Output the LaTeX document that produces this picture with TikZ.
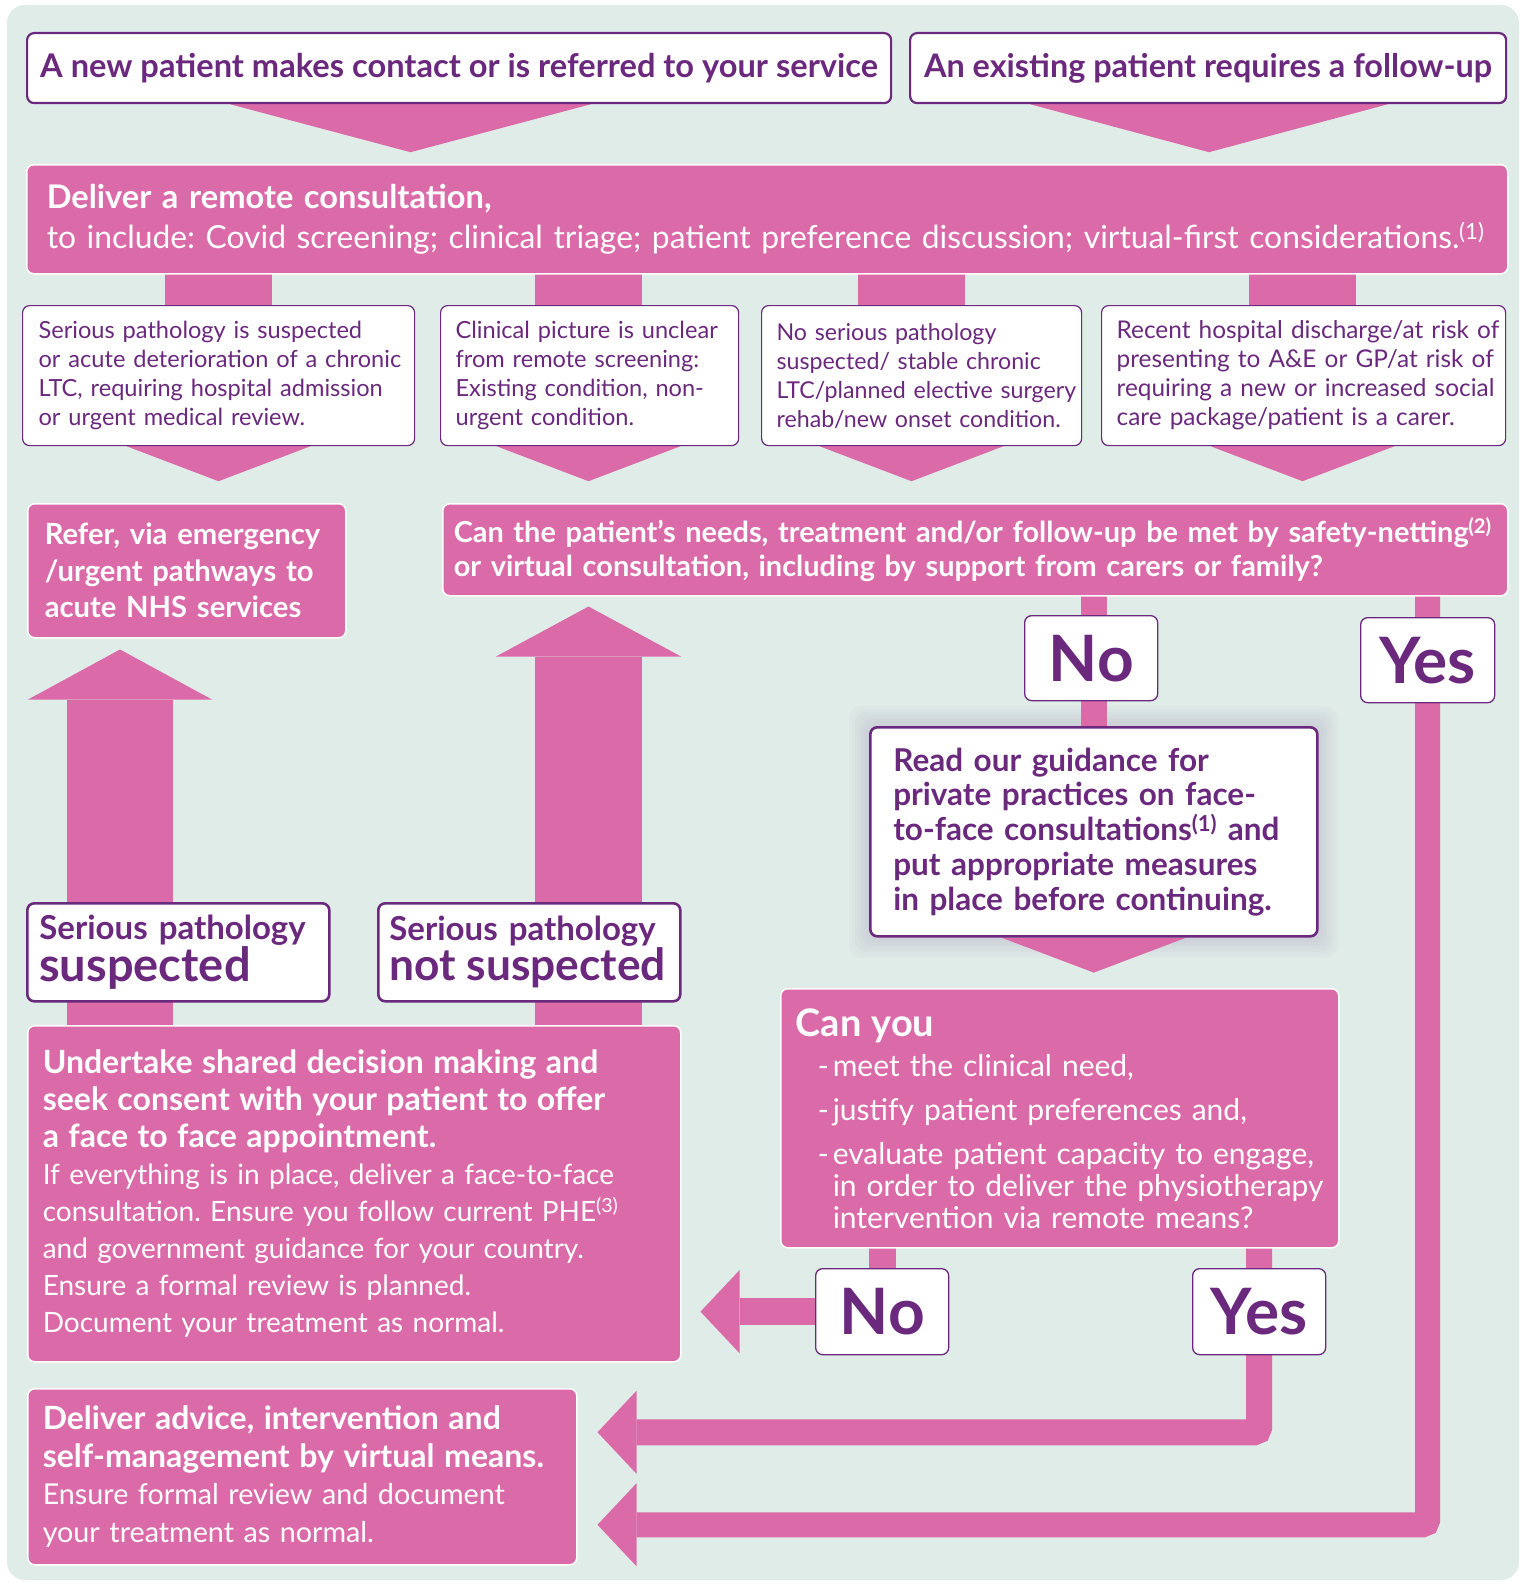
\documentclass[tikz,border=0pt]{standalone}
\usepackage{fontspec}
\setmainfont{Lato}
\frenchspacing
\usetikzlibrary{calc}
\definecolor{pinkc}{RGB}{219,106,168}
\definecolor{purp}{RGB}{107,41,126}
\definecolor{bgc}{RGB}{224,236,232}
\pgfdeclarelayer{back}
\pgfsetlayers{back,main}

\begin{document}
\begin{tikzpicture}[x=1pt, y=-1pt,
  whitebox/.style={draw=purp, line width=2.2, fill=white, rounded corners=7, anchor=north west, text=purp, inner sep=0},
  pinkbox/.style={draw=white, line width=1.5, fill=pinkc, rounded corners=7, anchor=north west, text=white, inner sep=0},
  smallbox/.style={whitebox, line width=1.2, minimum height=140, align=left, font=\frenchspacing\fontsize{23.6}{29}\selectfont},
  answer/.style={whitebox, line width=1.3, font=\bfseries\fontsize{64}{66}\selectfont},
  link/.style={draw=pinkc, line width=#1},
  head/.style={fill=pinkc}]

	\useasboundingbox (0,0) rectangle (1523,1584);
	\begin{pgfonlayer}{back}
		\fill[bgc, rounded corners=18] (7,5) rectangle (1519,1580);
	\end{pgfonlayer}

	% entry points
	\node[whitebox, minimum width=864, minimum height=70, font=\bfseries\fontsize{32.6}{36}\selectfont] (newpat) at (26,32) {A new patient makes contact or is referred to your service};
	\node[whitebox, minimum width=596, minimum height=70, font=\bfseries\fontsize{32.4}{36}\selectfont] (oldpat) at (909,32) {An existing patient requires a follow-up};

	\node[pinkbox, minimum width=1481, minimum height=109, inner xsep=20, text width=1441, align=left, font=\frenchspacing\fontsize{31.8}{40}\selectfont] (remote) at (26,164)
		{{\bfseries\fontsize{32.6}{40}\selectfont Deliver a remote consultation,}\\
		\mbox{to include: Covid screening; clinical triage; patient preference discussion; virtual-first considerations.\textsuperscript{(1)}}};

	% the four situations
	\node[smallbox, minimum width=392, inner xsep=16, text width=360] (serious) at (22,305)
		{\mbox{Serious pathology is suspected}\\ \mbox{or acute deterioration of a chronic}\\ \mbox{LTC, requiring hospital admission}\\ \mbox{or urgent medical review.}};
	\node[smallbox, minimum width=298, inner xsep=15, text width=268] (unclear) at (440,305)
		{\mbox{Clinical picture is unclear}\\ \mbox{from remote screening:}\\ \mbox{Existing condition, non-}\\ \mbox{urgent condition.}};
	\node[smallbox, minimum width=320, inner xsep=15, text width=290, font=\fontsize{23.2}{29}\selectfont] (stable) at (761,305)
		{\mbox{No serious pathology}\\ \mbox{suspected/ stable chronic}\\ \mbox{LTC/planned elective surgery}\\ \mbox{rehab/new onset condition.}};
	\node[smallbox, minimum width=404, inner xsep=15, text width=374, font=\fontsize{24.4}{29}\selectfont] (discharge) at (1101,305)
		{\mbox{Recent hospital discharge/at risk of}\\ \mbox{presenting to A\&E or GP/at risk of}\\ \mbox{requiring a new or increased social}\\ \mbox{care package/patient is a carer.}};

	\node[pinkbox, minimum width=318, minimum height=134, inner xsep=17, text width=284, align=left, font=\bfseries\fontsize{29.2}{36.5}\selectfont] (refer) at (27,503)
		{\mbox{Refer, via emergency}\\ \mbox{/urgent pathways to}\\ \mbox{acute NHS services}};
	\node[pinkbox, minimum width=1065, minimum height=92, inner xsep=11, text width=1043, align=left, font=\bfseries\fontsize{28.9}{34}\selectfont] (question) at (442,503)
		{\mbox{Can the patient’s needs, treatment and/or follow-up be met by safety-netting\textsuperscript{(2)}}\\
		\mbox{or virtual consultation, including by support from carers or family?}};

	\node[answer, minimum width=133, minimum height=85] (noA) at (1024,615) {No};
	\node[answer, minimum width=134, minimum height=85] (yesA) at (1360,617) {Yes};

	\node[whitebox, line width=2.6, minimum width=447, minimum height=209, inner xsep=23, text width=401, align=left, font=\bfseries\fontsize{31.5}{34.7}\selectfont] (read) at (869,726)
		{\mbox{Read our guidance for}\\ \mbox{private practices on face-}\\ \mbox{to-face consultations\textsuperscript{(1)} and}\\ \mbox{put appropriate measures}\\ \mbox{in place before continuing.}};

	\node[pinkbox, minimum width=558, minimum height=259, inner xsep=15, text width=528, align=left, font=\fontsize{30}{32}\selectfont] (canyou) at (780,988)
		{{\bfseries\fontsize{38}{40}\selectfont Can you}\\[8pt]
		\hspace*{22pt}\makebox[15pt][l]{-}\mbox{meet the clinical need,}\\[12pt]
		\hspace*{22pt}\makebox[15pt][l]{-}\mbox{justify patient preferences and,}\\[12pt]
		\hspace*{22pt}\makebox[15pt][l]{-}\mbox{evaluate patient capacity to engage,}\\
		\hspace*{37pt}\mbox{in order to deliver the physiotherapy}\\
		\hspace*{37pt}\mbox{intervention via remote means?}};

	\node[answer, minimum width=133, minimum height=86] (noB) at (815,1268) {No};
	\node[answer, minimum width=133, minimum height=86] (yesB) at (1192,1268) {Yes};

	\node[whitebox, line width=2.6, minimum width=302, minimum height=98, inner xsep=12, text width=278, align=left, font=\bfseries\fontsize{33}{40}\selectfont] (susp) at (26,902)
		{\mbox{Serious pathology}\\ {\fontsize{47}{40}\selectfont suspected}};
	\node[whitebox, line width=2.6, minimum width=302, minimum height=98, inner xsep=11, text width=280, align=left, font=\bfseries\fontsize{33}{40}\selectfont] (notsusp) at (377,902)
		{\mbox{Serious pathology}\\ {\fontsize{44.3}{40}\selectfont \mbox{not suspected}}};

	\node[pinkbox, minimum width=653, minimum height=336, inner xsep=15, text width=623, align=left, font=\fontsize{28}{37}\selectfont] (undertake) at (27,1025)
		{{\bfseries\fontsize{32}{37}\selectfont \mbox{Undertake shared decision making and}\\ \mbox{seek consent with your patient to offer}\\ \mbox{a face to face appointment.}}\\
		\mbox{If everything is in place, deliver a face-to-face}\\
		\mbox{consultation. Ensure you follow current PHE\textsuperscript{(3)}}\\
		\mbox{and government guidance for your country.}\\
		\mbox{Ensure a formal review is planned.}\\
		\mbox{Document your treatment as normal.}};

	\node[pinkbox, minimum width=549, minimum height=176, inner xsep=15, text width=519, align=left, font=\fontsize{28.7}{37.5}\selectfont] (deliver) at (27,1388)
		{{\bfseries\fontsize{32}{37.5}\selectfont \mbox{Deliver advice, intervention and}\\ \mbox{self-management by virtual means.}}\\
		\mbox{Ensure formal review and document}\\
		\mbox{your treatment as normal.}};

	\begin{pgfonlayer}{back}
		% glow round the guidance box
		\foreach \r in {20,17,...,2}
			\fill[purp, opacity=0.018, rounded corners=12] ($(read.north west)+(-\r,-\r)$) rectangle ($(read.south east)+(\r,\r)$);

		% from the entry points
		\fill[head] ($(newpat.south west)+(204,0)$) -- ++(361,0) -- ++(-180.5,48) -- cycle;
		\fill[head] ($(oldpat.south west)+(121,0)$) -- ++(358,0) -- ++(-179,48) -- cycle;

		% remote consultation to the four situations
		\foreach \nm/\dx in {serious/196.5, unclear/148.5, stable/150.5, discharge/201.5} {
			\coordinate (c) at ($(\nm.north west)+(\dx,0)$);
			\draw[link=107] (c |- remote.center) -- (c |- \nm.center);
			\fill[head] (c |- \nm.south) ++(-92,0) -- ++(184,0) -- ++(-92,35) -- cycle;
		}

		% serious pathology suspected
		\coordinate (u1) at ($(susp.north west)+(94,0)$);
		\path (u1 |- refer.south) ++(0,11) coordinate (u1tip);
		\draw[link=106.5] (u1 |- undertake.center) -- ($(u1tip)+(0,50)$);
		\fill[head] (u1tip) -- ++(-92,50) -- ++(184,0) -- cycle;

		% serious pathology not suspected
		\coordinate (u2) at ($(notsusp.north west)+(211.5,0)$);
		\path (u2 |- question.south) ++(0,10) coordinate (u2tip);
		\draw[link=107] (u2 |- undertake.center) -- ($(u2tip)+(0,50)$);
		\fill[head] (u2tip) -- ++(-92.5,50) -- ++(185,0) -- cycle;

		% question: no
		\draw[link=26] (read.center |- question.center) -- (read.center);
		\fill[head] (read.south) ++(-92.5,0) -- ++(185,0) -- ++(-92.5,35) -- cycle;

		% can you: no
		\draw[link=27] (noB.center |- canyou.center) -- (noB.center);
		\path (noB.center -| undertake.east) ++(19,0) coordinate (ntip);
		\draw[link=27] (noB.center) -- ($(ntip)+(39,0)$);
		\fill[head] (ntip) -- ++(39,-41.5) -- ++(0,83) -- cycle;

		% yes branches to virtual delivery
		\path (deliver.east) ++(20,-44.5) coordinate (d1tip);
		\path (deliver.east) ++(20,48) coordinate (d2tip);
		\draw[link=26, rounded corners=5] (yesB.center |- canyou.center) -- (yesB.center |- d1tip) -- ($(d1tip)+(39,0)$);
		\draw[link=25, rounded corners=5] (yesA.center |- question.center) -- (yesA.center |- d2tip) -- ($(d2tip)+(39,0)$);
		\fill[head] (d1tip) -- ++(39,-41.5) -- ++(0,83) -- cycle;
		\fill[head] (d2tip) -- ++(39,-41.5) -- ++(0,83) -- cycle;
	\end{pgfonlayer}
\end{tikzpicture}
\end{document}
